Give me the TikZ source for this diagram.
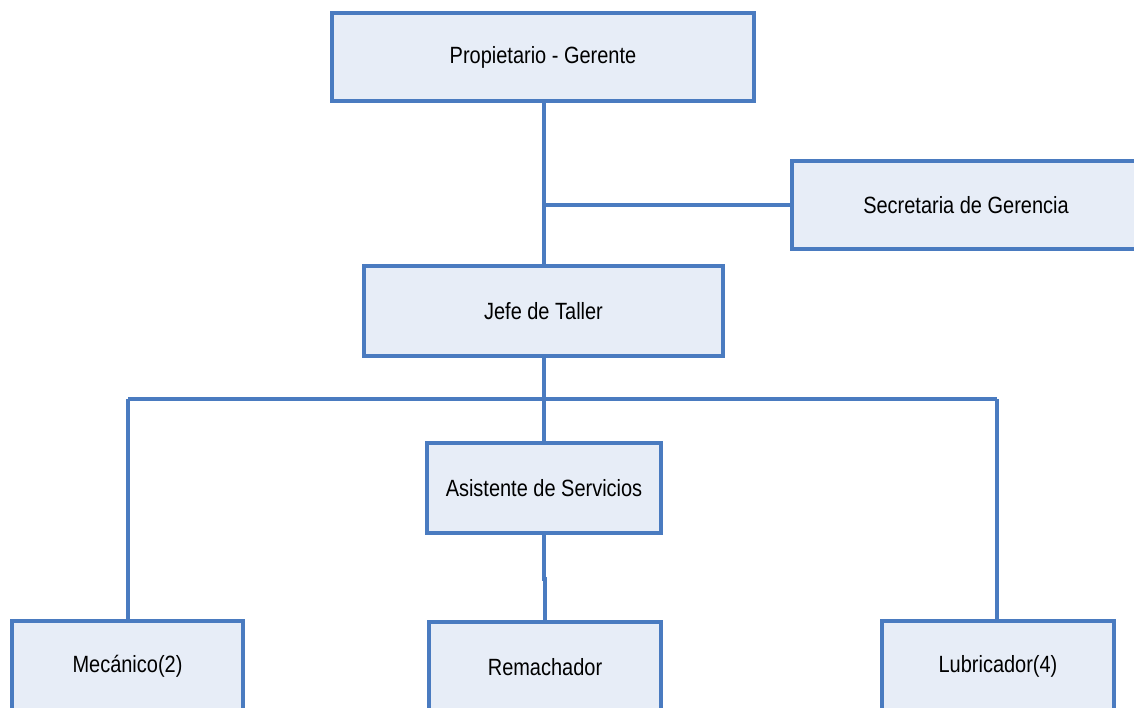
\documentclass[tikz,border=0pt]{standalone}
\usepackage{fontspec}
\setmainfont{Liberation Sans}[FakeStretch=0.85]
\definecolor{orgline}{HTML}{4A7BC0}
\definecolor{orgfill}{HTML}{E7EDF7}
\begin{document}
\begin{tikzpicture}[x=1pt,y=-1pt,
  orgbox/.style={draw=orgline, fill=orgfill, line width=4pt, rectangle,
    inner sep=0pt, minimum height=#1, font=\fontsize{23.5}{28}\selectfont},
  orgbox/.default=88,
  link/.style={draw=orgline, line width=4pt}]
\useasboundingbox[fill=white] (0,0) rectangle (1134,707);

% boxes
\node[orgbox, minimum width=422] (prop) at (543,57) {Propietario - Gerente};
\node[orgbox, minimum width=348] (sec)  at (966,205) {Secretaria de Gerencia};
\node[orgbox=90, minimum width=359] (jefe) at (543.5,311) {Jefe de Taller};
\node[orgbox=90, minimum width=234] (asis) at (544,488) {Asistente de Servicios};
\node[orgbox=90, minimum width=231] (mec)  at (127.5,666) {Mecánico(2)};
\node[orgbox=90, minimum width=232] (rem)  at (545,667) {Remachador};
\node[orgbox=90, minimum width=232] (lub)  at (998,666) {Lubricador(4)};

% connector helpers
\coordinate (stem) at (544,205);
\coordinate (bus) at (544,399);
\coordinate (busL) at (128,399);
\coordinate (busR) at (997,399);
\coordinate (jog) at (544,579);

% connectors
\draw[link] (prop.south -| stem) -- (jefe.north -| stem);
\draw[link] (stem) -- (sec.west);
\draw[link] (jefe.south -| bus) -- (bus);
\draw[link] (busL) -- (busR);
\draw[link] (bus) -- (asis.north -| bus);
\draw[link] (busL) -- (mec.north -| busL);
\draw[link] (busR) -- (lub.north -| busR);
\draw[link] (asis.south -| jog) -- (jog) -- (jog -| rem.north) -- (rem.north);
\end{tikzpicture}
\end{document}
